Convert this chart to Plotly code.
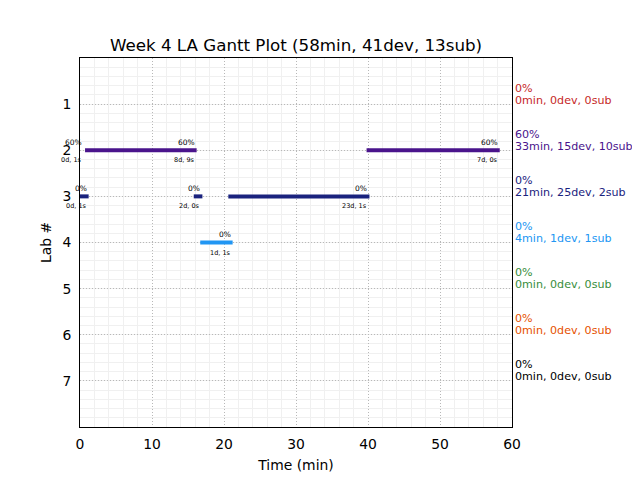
import plotly.graph_objects as go

# ---- data ----
labs = [1, 2, 3, 4, 5, 6, 7]
lab_colors = ["#c62828", "#4a148c", "#1a237e", "#2196f3", "#388e3c", "#e65100", "#000000"]
lab_pct = [0, 60, 0, 0, 0, 0, 0]
lab_minutes = [0, 33, 21, 4, 0, 0, 0]
lab_devs = [0, 15, 25, 1, 0, 0, 0]
lab_subs = [0, 10, 2, 1, 0, 0, 0]

# sessions: lab, start (min), end (min), percent, devs, subs
seg_lab = [2, 2, 2, 3, 3, 3, 4]
seg_start = [0.5, 0.7, 39.8, 0.0, 15.8, 20.6, 16.7]
seg_end = [0.5, 16.2, 58.3, 1.2, 17.0, 40.2, 21.2]
seg_pct = [60, 60, 60, 0, 0, 0, 0]
seg_dev = [0, 8, 7, 0, 2, 23, 1]
seg_sub = [1, 9, 0, 1, 0, 1, 1]

title = "Week 4 LA Gantt Plot (58min, 41dev, 13sub)"
FONT = "DejaVu Sans"

# page body has an 8px margin; the figure is sized so the plot lands where the reference has it
W, H = 632, 472

fig = go.Figure()

for i, lab in enumerate(labs):
    xs, ys = [], []
    for j in range(len(seg_lab)):
        if seg_lab[j] == lab:
            xs += [seg_start[j], seg_end[j], None]
            ys += [lab, lab, None]
    if xs:
        fig.add_trace(go.Scatter(x=xs, y=ys, mode="lines",
                                 line=dict(color=lab_colors[i], width=4),
                                 showlegend=False, hoverinfo="skip"))

annotations = []
for j in range(len(seg_lab)):
    annotations.append(dict(x=seg_end[j], y=seg_lab[j], xref="x", yref="y",
                            text=f"{seg_pct[j]}%", showarrow=False,
                            xanchor="right", yanchor="middle", yshift=8,
                            font=dict(family=FONT, size=7.5, color="black")))
    annotations.append(dict(x=seg_end[j], y=seg_lab[j], xref="x", yref="y",
                            text=f"{seg_dev[j]}d, {seg_sub[j]}s", showarrow=False,
                            xanchor="right", yanchor="middle", yshift=-10,
                            font=dict(family=FONT, size=6.5, color="black")))

for i, lab in enumerate(labs):
    annotations.append(dict(x=1.0, y=lab, xref="paper", yref="y", xshift=1,
                            text=f"{lab_pct[i]}%",
                            showarrow=False, xanchor="left", yanchor="middle", yshift=16,
                            font=dict(family=FONT, size=11.1, color=lab_colors[i])))
    annotations.append(dict(x=1.0, y=lab, xref="paper", yref="y", xshift=1,
                            text=f"{lab_minutes[i]}min, {lab_devs[i]}dev, {lab_subs[i]}sub",
                            showarrow=False, xanchor="left", yanchor="middle", yshift=4,
                            font=dict(family=FONT, size=11.1, color=lab_colors[i])))

fig.update_layout(
    width=W, height=H,
    margin=dict(l=72, r=128, t=50, b=53),
    paper_bgcolor="white", plot_bgcolor="white",
    font=dict(family=FONT, color="black"),
    title=dict(text=title, x=288 / W, xref="container", y=1 - 37 / H, yref="container",
               xanchor="center", yanchor="middle", font=dict(size=16.7, family=FONT)),
    annotations=annotations,
    showlegend=False,
)

fig.update_xaxes(range=[0, 60], dtick=10, tick0=0, automargin=False,
                 showline=True, linecolor="black", linewidth=1, mirror=True,
                 showgrid=True, gridcolor="#b8b8b8", griddash="1px,2px", gridwidth=1,
                 minor=dict(dtick=2, showgrid=True, gridcolor="#f0f0f0", gridwidth=1, griddash="solid"),
                 zeroline=False, ticks="", ticklabelstandoff=4,
                 tickfont=dict(size=13.9, family=FONT),
                 title=dict(text="Time (min)", font=dict(size=13.9, family=FONT), standoff=9))
fig.update_yaxes(range=[8, 0], tickvals=labs, ticktext=[str(l) for l in labs], automargin=False,
                 showline=True, linecolor="black", linewidth=1, mirror=True,
                 showgrid=True, gridcolor="#b8b8b8", griddash="1px,2px", gridwidth=1,
                 minor=dict(dtick=0.2, tick0=0, showgrid=True, gridcolor="#f0f0f0", gridwidth=1, griddash="solid"),
                 zeroline=False, ticks="", ticklabelstandoff=5,
                 tickfont=dict(size=13.9, family=FONT),
                 title=dict(text="Lab #", font=dict(size=13.9, family=FONT), standoff=7))

fig.write_html("out.html")
